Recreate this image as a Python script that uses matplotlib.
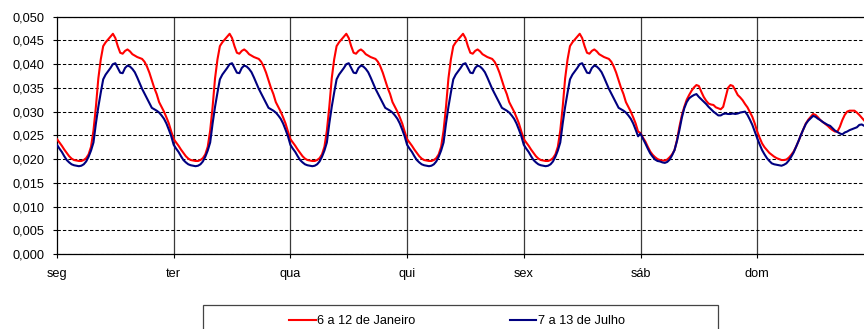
import numpy as np
import matplotlib
matplotlib.use("Agg")
import matplotlib.pyplot as plt
from matplotlib.patches import Rectangle

# ---- data (half-hourly shares of weekly consumption) ----
days = ["seg", "ter", "qua", "qui", "sex", "sáb", "dom"]
series_names = ["6 a 12 de Janeiro", "7 a 13 de Julho"]

jan_weekday = [0.0242, 0.0235, 0.0228, 0.0220, 0.0213, 0.0206, 0.0201, 0.0198,
               0.0197, 0.0196, 0.0196, 0.0198, 0.0202, 0.0210, 0.0226, 0.0260,
               0.0310, 0.0370, 0.0410, 0.0438, 0.0446, 0.0452, 0.0458, 0.0464,
               0.0455, 0.0438, 0.0424, 0.0422, 0.0428, 0.0431, 0.0427, 0.0421,
               0.0418, 0.0415, 0.0413, 0.0411, 0.0405, 0.0395, 0.0382, 0.0366,
               0.0350, 0.0337, 0.0320, 0.0310, 0.0300, 0.0288, 0.0275, 0.0258]
jul_weekday = [0.0230, 0.0222, 0.0215, 0.0206, 0.0198, 0.0193, 0.0189, 0.0187,
               0.0186, 0.0185, 0.0186, 0.0189, 0.0195, 0.0205, 0.0218, 0.0235,
               0.0275, 0.0310, 0.0340, 0.0368, 0.0378, 0.0385, 0.0392, 0.0400,
               0.0402, 0.0392, 0.0382, 0.0381, 0.0392, 0.0397, 0.0395, 0.0390,
               0.0383, 0.0372, 0.0360, 0.0348, 0.0338, 0.0328, 0.0318, 0.0308,
               0.0305, 0.0302, 0.0298, 0.0292, 0.0285, 0.0275, 0.0262, 0.0248]
jan_sat = [0.0255, 0.0245, 0.0237, 0.0226, 0.0216, 0.0209, 0.0204, 0.0200,
           0.0198, 0.0197, 0.0197, 0.0199, 0.0204, 0.0210, 0.0219, 0.0240,
           0.0268, 0.0292, 0.0310, 0.0325, 0.0335, 0.0344, 0.0351, 0.0356,
           0.0354, 0.0342, 0.0331, 0.0323, 0.0317, 0.0315, 0.0314, 0.0309,
           0.0307, 0.0305, 0.0310, 0.0330, 0.0350, 0.0356, 0.0354, 0.0345,
           0.0335, 0.0330, 0.0324, 0.0316, 0.0309, 0.0299, 0.0289, 0.0275]
jul_sat = [0.0254, 0.0243, 0.0233, 0.0222, 0.0212, 0.0205, 0.0199, 0.0196,
           0.0195, 0.0193, 0.0192, 0.0194, 0.0199, 0.0208, 0.0219, 0.0238,
           0.0261, 0.0287, 0.0307, 0.0320, 0.0328, 0.0332, 0.0335, 0.0337,
           0.0331, 0.0326, 0.0321, 0.0316, 0.0310, 0.0305, 0.0300, 0.0296,
           0.0292, 0.0292, 0.0295, 0.0296, 0.0295, 0.0295, 0.0296, 0.0295,
           0.0296, 0.0298, 0.0299, 0.0300, 0.0293, 0.0283, 0.0272, 0.0258]
jan_sun = [0.0258, 0.0245, 0.0233, 0.0225, 0.0219, 0.0213, 0.0209, 0.0205,
           0.0202, 0.0200, 0.0198, 0.0198, 0.0199, 0.0203, 0.0209, 0.0216,
           0.0226, 0.0238, 0.0251, 0.0263, 0.0275, 0.0283, 0.0289, 0.0295,
           0.0293, 0.0288, 0.0282, 0.0278, 0.0274, 0.0270, 0.0265, 0.0261,
           0.0258, 0.0258, 0.0268, 0.0282, 0.0293, 0.0300, 0.0302, 0.0302,
           0.0302, 0.0298, 0.0293, 0.0287, 0.0281, 0.0276]
jul_sun = [0.0244, 0.0231, 0.0219, 0.0210, 0.0202, 0.0196, 0.0191, 0.0189,
           0.0188, 0.0187, 0.0186, 0.0188, 0.0191, 0.0197, 0.0205, 0.0214,
           0.0226, 0.0238, 0.0251, 0.0263, 0.0274, 0.0281, 0.0286, 0.0291,
           0.0289, 0.0285, 0.0282, 0.0278, 0.0275, 0.0272, 0.0270, 0.0265,
           0.0260, 0.0257, 0.0254, 0.0252, 0.0256, 0.0258, 0.0261, 0.0263,
           0.0265, 0.0267, 0.0272, 0.0273, 0.0270, 0.0268]

yticks = [0.000, 0.005, 0.010, 0.015, 0.020, 0.025, 0.030, 0.035, 0.040, 0.045, 0.050]
ytick_labels = ["0,000", "0,005", "0,010", "0,015", "0,020", "0,025",
                "0,030", "0,035", "0,040", "0,045", "0,050"]

jan = jan_weekday * 5 + jan_sat + jan_sun
jul = jul_weekday * 5 + jul_sat + jul_sun
t_jan = np.arange(len(jan)) * 0.5
t_jul = np.arange(len(jul)) * 0.5

# ---- plot ----
plt.rcParams['font.family'] = ['Liberation Sans', 'DejaVu Sans']
plt.rcParams['lines.scale_dashes'] = False

fig = plt.figure(figsize=(8.64, 3.29), dpi=100)
ax = fig.add_axes([57 / 864, 75 / 329, 1 - 57 / 864, (254 - 16.7) / 329])

for xd in range(1, 7):
    ax.axvline(xd * 24, color='#3a3a3a', lw=0.9, zorder=1)
ax.grid(axis='y', linestyle=(0, (2.4, 1.5)), color='black', lw=0.75, zorder=1)

ax.plot(t_jan, jan, color='#FF0000', lw=1.5, zorder=3, label=series_names[0])
ax.plot(t_jul, jul, color='#000080', lw=1.5, zorder=3, label=series_names[1])

ax.set_xlim(0, 807 / 116.7 * 24)
ax.set_ylim(0, 0.050)
ax.set_yticks(yticks)
ax.set_yticklabels(ytick_labels)
ax.set_xticks([i * 24 for i in range(len(days))])
ax.set_xticklabels(days)
ax.tick_params(axis='both', direction='out', length=3, width=0.8, labelsize=9.2,
               colors='black')
ax.tick_params(axis='y', pad=6)
ax.tick_params(axis='x', pad=7)
for s in ['left', 'bottom', 'top']:
    ax.spines[s].set_color('black')
    ax.spines[s].set_linewidth(0.9)
ax.spines['right'].set_visible(False)

# legend box
fig.patches.append(Rectangle((203 / 864, -0.05), (718 - 203) / 864, (329 - 305) / 329 + 0.05,
                             transform=fig.transFigure, fill=False,
                             edgecolor='#444444', lw=0.9))
fig.legend(loc='center', bbox_to_anchor=(457 / 864, 8 / 329), ncol=2,
           frameon=False, fontsize=9.2, handlelength=2.1, handletextpad=0.15,
           columnspacing=7.35)

fig.savefig("out.png", dpi=100)
